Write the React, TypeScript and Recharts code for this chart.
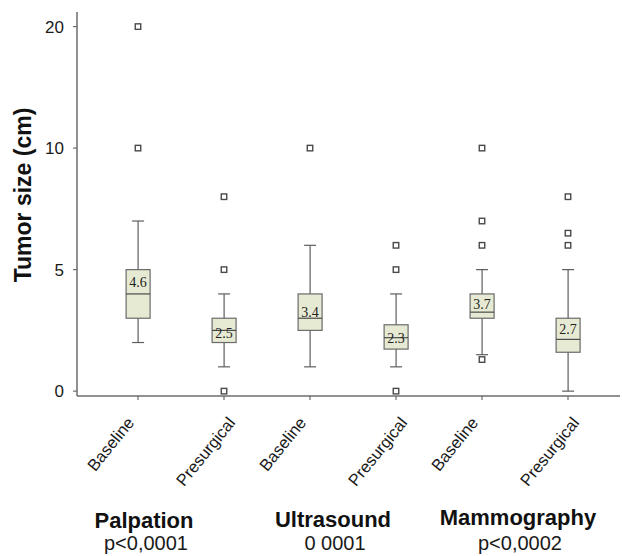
import React from 'react';
import { ComposedChart, Bar, Scatter, XAxis, YAxis } from 'recharts';

// categories (unique ids) and the tick text shown under each
const categories = ['pal-base', 'pal-pre', 'us-base', 'us-pre', 'mam-base', 'mam-pre'];
const tickLabels = ['Baseline', 'Presurgical', 'Baseline', 'Presurgical', 'Baseline', 'Presurgical'];

// box plot statistics (cm)
const whiskerLow = [2, 1, 1, 1, 1.5, 0];
const boxLow = [3, 2, 2.5, 1.73, 3, 1.6];
const medians = [4, 2.5, 3, 2.2, 3.25, 2.13];
const boxHigh = [5, 3, 4, 2.73, 4, 3];
const whiskerHigh = [7, 4, 6, 4, 5, 5];
const means = [4.6, 2.5, 3.4, 2.3, 3.7, 2.7];
const outliers = [[10, 20], [0, 5, 8], [10], [0, 5, 6], [1.3, 6, 7, 10], [6, 6.5, 8]];

const yTicks = [0, 5, 10, 20];
const groups = ['Palpation', 'Ultrasound', 'Mammography'];
const pValues = ['p<0,0001', '0 0001', 'p<0,0002'];

// axis is compressed above 10 (10..20 takes the same room as 5..10)
const sq = (v: number) => (v <= 10 ? v : 10 + (v - 10) / 2);
const unsq = (t: number) => (t <= 10 ? t : 10 + (t - 10) * 2);

const rows = categories.map((id, i) => ({
  id,
  label: tickLabels[i],
  range: [sq(whiskerLow[i]), sq(whiskerHigh[i])],
  q1: boxLow[i],
  med: medians[i],
  q3: boxHigh[i],
  mean: means[i],
}));

const outlierPoints = categories.flatMap((id, i) => outliers[i].map((v) => ({ id, v: sq(v) })));

const SANS = '"Liberation Sans", Arial, sans-serif';
const SERIF = '"Liberation Serif", "Times New Roman", serif';
const AXIS = '#6c6c6c';

const BoxShape = (props: any) => {
  const { x, y, width, height, payload } = props;
  const [lo, hi] = payload.range;
  const top = Math.min(y, y + height);
  const h = Math.abs(height);
  const py = (v: number) => top + (h * (hi - v)) / (hi - lo);
  const cx = x + width / 2;
  const half = 12;
  const cap = 6;
  return (
    <g>
      <line x1={cx} x2={cx} y1={py(hi)} y2={py(lo)} stroke="#5e5e5e" strokeWidth={1.2} />
      <line x1={cx - cap} x2={cx + cap} y1={py(hi)} y2={py(hi)} stroke="#5e5e5e" strokeWidth={1.2} />
      <line x1={cx - cap} x2={cx + cap} y1={py(lo)} y2={py(lo)} stroke="#5e5e5e" strokeWidth={1.2} />
      <rect
        x={cx - half}
        y={py(payload.q3)}
        width={half * 2}
        height={py(payload.q1) - py(payload.q3)}
        fill="#e7ead3"
        stroke="#6a6a6a"
        strokeWidth={1.2}
      />
      <line x1={cx - half} x2={cx + half} y1={py(payload.med)} y2={py(payload.med)} stroke="#4a4a4a" strokeWidth={1.2} />
      <text x={cx} y={py(payload.mean) + 8} textAnchor="middle" fontFamily={SERIF} fontSize={14} fill="#222">
        {payload.mean.toFixed(1)}
      </text>
    </g>
  );
};

const Square = (props: any) => {
  const { cx, cy } = props;
  return <rect x={cx - 2.75} y={cy - 2.75} width={5.5} height={5.5} fill="#fff" stroke="#4a4a4a" strokeWidth={1.4} />;
};

const RotatedTick = (props: any) => {
  const { x, y, payload } = props;
  const row = rows.find((r) => r.id === payload.value);
  const text = row ? row.label : '';
  const ax = x + (text === 'Presurgical' ? 12 : -3);
  const ay = y + 21;
  return (
    <text
      x={ax}
      y={ay}
      textAnchor="end"
      fontFamily={SANS}
      fontSize={16.5}
      fill="#1a1a1a"
      transform={`rotate(-51, ${ax}, ${ay})`}
    >
      {text}
    </text>
  );
};

const YTitle = () => (
  <text
    x={23}
    y={195}
    textAnchor="middle"
    dominantBaseline="central"
    fontFamily={SANS}
    fontWeight="bold"
    fontSize={23}
    fill="#111"
    transform="rotate(-90, 23, 195)"
  >
    Tumor size (cm)
  </text>
);

const groupX = [144, 333, 518];
const groupY = [528, 527, 525];

export default function App() {
  return (
    <div style={{ position: 'relative', width: 622, height: 556, background: '#fff' }}>
      <style>{'body{margin:0}'}</style>
      <ComposedChart width={622} height={556} data={rows} margin={{ top: 12, right: 2, bottom: 0, left: 0 }}>
        <XAxis
          dataKey="id"
          type="category"
          allowDuplicatedCategory={false}
          height={160}
          padding={{ left: 18, right: 9 }}
          axisLine={{ stroke: AXIS, strokeWidth: 1.5 }}
          tickLine={{ stroke: AXIS, strokeWidth: 1.2 }}
          tickSize={4}
          tick={<RotatedTick />}
          interval={0}
        />
        <YAxis
          type="number"
          width={77}
          domain={[-0.2, 15.6]}
          allowDataOverflow
          ticks={yTicks.map(sq)}
          tickFormatter={(t: number) => String(unsq(t))}
          axisLine={{ stroke: AXIS, strokeWidth: 1.5 }}
          tickLine={{ stroke: AXIS, strokeWidth: 1.2 }}
          tickSize={4}
          tickMargin={9}
          tick={{ fontFamily: SANS, fontSize: 17, fill: '#1a1a1a' }}
          label={<YTitle />}
        />
        <Bar dataKey="range" shape={<BoxShape />} isAnimationActive={false} />
        <Scatter data={outlierPoints} dataKey="v" shape={<Square />} isAnimationActive={false} />
      </ComposedChart>
      <svg width={622} height={556} style={{ position: 'absolute', left: 0, top: 0, pointerEvents: 'none' }}>
        {groups.map((g, i) => (
          <g key={g}>
            <text x={groupX[i]} y={groupY[i]} textAnchor="middle" fontFamily={SANS} fontWeight="bold" fontSize={22} fill="#111">
              {g}
            </text>
            <text x={groupX[i] + 2} y={550} textAnchor="middle" fontFamily={SANS} fontSize={20} fill="#1a1a1a">
              {pValues[i]}
            </text>
          </g>
        ))}
      </svg>
    </div>
  );
}
